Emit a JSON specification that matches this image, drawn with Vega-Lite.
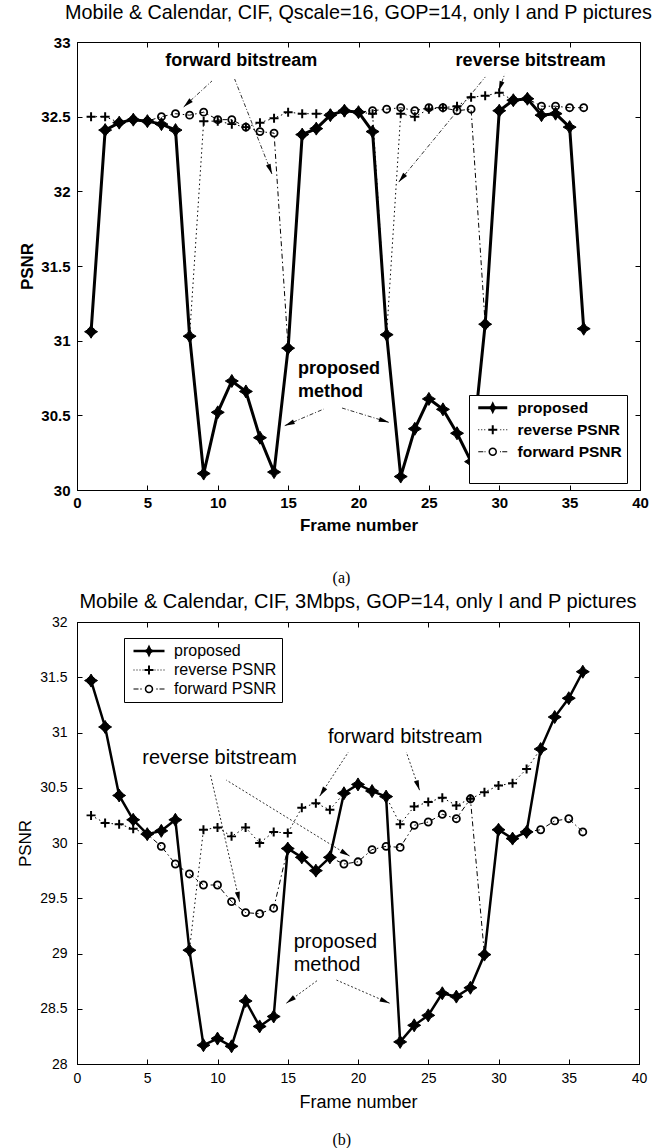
{
"$schema": "https://vega.github.io/schema/vega-lite/v6.json",
"padding": {"left": 16, "top": 2, "right": 4, "bottom": 0},
"spacing": 5,
"resolve": {"scale": {"shape": "independent"}, "legend": {"shape": "independent"}},
"config": {
  "font": "Liberation Sans",
  "view": {"stroke": "black", "strokeWidth": 1},
  "axis": {"grid": false, "domainColor": "black", "tickColor": "black", "labelColor": "black", "titleColor": "black", "tickSize": -5, "labelFlush": false, "labelOverlap": false, "labelFont": "Liberation Sans", "titleFont": "Liberation Sans"},
  "title": {"color": "black", "font": "Liberation Sans"},
  "legend": {"labelColor": "black", "labelFont": "Liberation Sans"}
},
"datasets": {
  "psnrA": [
    {"series":"proposed","frame":1,"psnr":31.06},{"series":"proposed","frame":2,"psnr":32.41},{"series":"proposed","frame":3,"psnr":32.46},{"series":"proposed","frame":4,"psnr":32.48},{"series":"proposed","frame":5,"psnr":32.47},{"series":"proposed","frame":6,"psnr":32.45},{"series":"proposed","frame":7,"psnr":32.41},{"series":"proposed","frame":8,"psnr":31.03},{"series":"proposed","frame":9,"psnr":30.11},{"series":"proposed","frame":10,"psnr":30.52},{"series":"proposed","frame":11,"psnr":30.73},{"series":"proposed","frame":12,"psnr":30.66},{"series":"proposed","frame":13,"psnr":30.35},{"series":"proposed","frame":14,"psnr":30.12},{"series":"proposed","frame":15,"psnr":30.95},{"series":"proposed","frame":16,"psnr":32.38},{"series":"proposed","frame":17,"psnr":32.42},{"series":"proposed","frame":18,"psnr":32.51},{"series":"proposed","frame":19,"psnr":32.54},{"series":"proposed","frame":20,"psnr":32.53},{"series":"proposed","frame":21,"psnr":32.40},{"series":"proposed","frame":22,"psnr":31.04},{"series":"proposed","frame":23,"psnr":30.09},{"series":"proposed","frame":24,"psnr":30.41},{"series":"proposed","frame":25,"psnr":30.61},{"series":"proposed","frame":26,"psnr":30.54},{"series":"proposed","frame":27,"psnr":30.38},{"series":"proposed","frame":28,"psnr":30.19},{"series":"proposed","frame":29,"psnr":31.11},{"series":"proposed","frame":30,"psnr":32.54},{"series":"proposed","frame":31,"psnr":32.61},{"series":"proposed","frame":32,"psnr":32.62},{"series":"proposed","frame":33,"psnr":32.51},{"series":"proposed","frame":34,"psnr":32.52},{"series":"proposed","frame":35,"psnr":32.43},{"series":"proposed","frame":36,"psnr":31.08},
    {"series":"reverse PSNR","frame":1,"psnr":32.50},{"series":"reverse PSNR","frame":2,"psnr":32.50},{"series":"reverse PSNR","frame":3,"psnr":32.46},{"series":"reverse PSNR","frame":4,"psnr":32.48},{"series":"reverse PSNR","frame":5,"psnr":32.47},{"series":"reverse PSNR","frame":6,"psnr":32.45},{"series":"reverse PSNR","frame":7,"psnr":32.41},{"series":"reverse PSNR","frame":8,"psnr":31.03},{"series":"reverse PSNR","frame":9,"psnr":32.47},{"series":"reverse PSNR","frame":10,"psnr":32.47},{"series":"reverse PSNR","frame":11,"psnr":32.45},{"series":"reverse PSNR","frame":12,"psnr":32.43},{"series":"reverse PSNR","frame":13,"psnr":32.46},{"series":"reverse PSNR","frame":14,"psnr":32.49},{"series":"reverse PSNR","frame":15,"psnr":32.53},{"series":"reverse PSNR","frame":16,"psnr":32.52},{"series":"reverse PSNR","frame":17,"psnr":32.52},{"series":"reverse PSNR","frame":18,"psnr":32.52},{"series":"reverse PSNR","frame":19,"psnr":32.53},{"series":"reverse PSNR","frame":20,"psnr":32.53},{"series":"reverse PSNR","frame":21,"psnr":32.52},{"series":"reverse PSNR","frame":22,"psnr":31.04},{"series":"reverse PSNR","frame":23,"psnr":32.52},{"series":"reverse PSNR","frame":24,"psnr":32.50},{"series":"reverse PSNR","frame":25,"psnr":32.55},{"series":"reverse PSNR","frame":26,"psnr":32.56},{"series":"reverse PSNR","frame":27,"psnr":32.57},{"series":"reverse PSNR","frame":28,"psnr":32.63},{"series":"reverse PSNR","frame":29,"psnr":32.64},{"series":"reverse PSNR","frame":30,"psnr":32.66},{"series":"reverse PSNR","frame":31,"psnr":32.61},{"series":"reverse PSNR","frame":32,"psnr":32.62},{"series":"reverse PSNR","frame":33,"psnr":32.51},{"series":"reverse PSNR","frame":34,"psnr":32.52},{"series":"reverse PSNR","frame":35,"psnr":32.43},{"series":"reverse PSNR","frame":36,"psnr":31.08},
    {"series":"forward PSNR","frame":1,"psnr":31.06},{"series":"forward PSNR","frame":2,"psnr":32.41},{"series":"forward PSNR","frame":3,"psnr":32.46},{"series":"forward PSNR","frame":4,"psnr":32.48},{"series":"forward PSNR","frame":5,"psnr":32.47},{"series":"forward PSNR","frame":6,"psnr":32.50},{"series":"forward PSNR","frame":7,"psnr":32.52},{"series":"forward PSNR","frame":8,"psnr":32.51},{"series":"forward PSNR","frame":9,"psnr":32.53},{"series":"forward PSNR","frame":10,"psnr":32.48},{"series":"forward PSNR","frame":11,"psnr":32.48},{"series":"forward PSNR","frame":12,"psnr":32.43},{"series":"forward PSNR","frame":13,"psnr":32.40},{"series":"forward PSNR","frame":14,"psnr":32.39},{"series":"forward PSNR","frame":15,"psnr":30.95},{"series":"forward PSNR","frame":16,"psnr":32.38},{"series":"forward PSNR","frame":17,"psnr":32.42},{"series":"forward PSNR","frame":18,"psnr":32.51},{"series":"forward PSNR","frame":19,"psnr":32.54},{"series":"forward PSNR","frame":20,"psnr":32.53},{"series":"forward PSNR","frame":21,"psnr":32.54},{"series":"forward PSNR","frame":22,"psnr":32.55},{"series":"forward PSNR","frame":23,"psnr":32.56},{"series":"forward PSNR","frame":24,"psnr":32.54},{"series":"forward PSNR","frame":25,"psnr":32.56},{"series":"forward PSNR","frame":26,"psnr":32.56},{"series":"forward PSNR","frame":27,"psnr":32.54},{"series":"forward PSNR","frame":28,"psnr":32.55},{"series":"forward PSNR","frame":29,"psnr":31.11},{"series":"forward PSNR","frame":30,"psnr":32.54},{"series":"forward PSNR","frame":31,"psnr":32.61},{"series":"forward PSNR","frame":32,"psnr":32.62},{"series":"forward PSNR","frame":33,"psnr":32.57},{"series":"forward PSNR","frame":34,"psnr":32.57},{"series":"forward PSNR","frame":35,"psnr":32.56},{"series":"forward PSNR","frame":36,"psnr":32.56}
  ],
  "psnrB": [
    {"series":"proposed","frame":1,"psnr":31.47},{"series":"proposed","frame":2,"psnr":31.05},{"series":"proposed","frame":3,"psnr":30.43},{"series":"proposed","frame":4,"psnr":30.21},{"series":"proposed","frame":5,"psnr":30.08},{"series":"proposed","frame":6,"psnr":30.11},{"series":"proposed","frame":7,"psnr":30.21},{"series":"proposed","frame":8,"psnr":29.03},{"series":"proposed","frame":9,"psnr":28.17},{"series":"proposed","frame":10,"psnr":28.23},{"series":"proposed","frame":11,"psnr":28.16},{"series":"proposed","frame":12,"psnr":28.57},{"series":"proposed","frame":13,"psnr":28.34},{"series":"proposed","frame":14,"psnr":28.43},{"series":"proposed","frame":15,"psnr":29.95},{"series":"proposed","frame":16,"psnr":29.87},{"series":"proposed","frame":17,"psnr":29.75},{"series":"proposed","frame":18,"psnr":29.87},{"series":"proposed","frame":19,"psnr":30.45},{"series":"proposed","frame":20,"psnr":30.53},{"series":"proposed","frame":21,"psnr":30.47},{"series":"proposed","frame":22,"psnr":30.42},{"series":"proposed","frame":23,"psnr":28.20},{"series":"proposed","frame":24,"psnr":28.35},{"series":"proposed","frame":25,"psnr":28.44},{"series":"proposed","frame":26,"psnr":28.64},{"series":"proposed","frame":27,"psnr":28.61},{"series":"proposed","frame":28,"psnr":28.69},{"series":"proposed","frame":29,"psnr":28.99},{"series":"proposed","frame":30,"psnr":30.12},{"series":"proposed","frame":31,"psnr":30.04},{"series":"proposed","frame":32,"psnr":30.10},{"series":"proposed","frame":33,"psnr":30.85},{"series":"proposed","frame":34,"psnr":31.14},{"series":"proposed","frame":35,"psnr":31.31},{"series":"proposed","frame":36,"psnr":31.55},
    {"series":"reverse PSNR","frame":1,"psnr":30.25},{"series":"reverse PSNR","frame":2,"psnr":30.18},{"series":"reverse PSNR","frame":3,"psnr":30.17},{"series":"reverse PSNR","frame":4,"psnr":30.13},{"series":"reverse PSNR","frame":5,"psnr":30.08},{"series":"reverse PSNR","frame":6,"psnr":30.11},{"series":"reverse PSNR","frame":7,"psnr":30.21},{"series":"reverse PSNR","frame":8,"psnr":29.03},{"series":"reverse PSNR","frame":9,"psnr":30.12},{"series":"reverse PSNR","frame":10,"psnr":30.14},{"series":"reverse PSNR","frame":11,"psnr":30.06},{"series":"reverse PSNR","frame":12,"psnr":30.14},{"series":"reverse PSNR","frame":13,"psnr":30.00},{"series":"reverse PSNR","frame":14,"psnr":30.10},{"series":"reverse PSNR","frame":15,"psnr":30.09},{"series":"reverse PSNR","frame":16,"psnr":30.32},{"series":"reverse PSNR","frame":17,"psnr":30.36},{"series":"reverse PSNR","frame":18,"psnr":30.30},{"series":"reverse PSNR","frame":19,"psnr":30.45},{"series":"reverse PSNR","frame":20,"psnr":30.53},{"series":"reverse PSNR","frame":21,"psnr":30.47},{"series":"reverse PSNR","frame":22,"psnr":30.42},{"series":"reverse PSNR","frame":23,"psnr":30.17},{"series":"reverse PSNR","frame":24,"psnr":30.33},{"series":"reverse PSNR","frame":25,"psnr":30.37},{"series":"reverse PSNR","frame":26,"psnr":30.41},{"series":"reverse PSNR","frame":27,"psnr":30.34},{"series":"reverse PSNR","frame":28,"psnr":30.40},{"series":"reverse PSNR","frame":29,"psnr":30.46},{"series":"reverse PSNR","frame":30,"psnr":30.52},{"series":"reverse PSNR","frame":31,"psnr":30.54},{"series":"reverse PSNR","frame":32,"psnr":30.67},{"series":"reverse PSNR","frame":33,"psnr":30.85},{"series":"reverse PSNR","frame":34,"psnr":31.14},{"series":"reverse PSNR","frame":35,"psnr":31.31},{"series":"reverse PSNR","frame":36,"psnr":31.55},
    {"series":"forward PSNR","frame":1,"psnr":31.47},{"series":"forward PSNR","frame":2,"psnr":31.05},{"series":"forward PSNR","frame":3,"psnr":30.43},{"series":"forward PSNR","frame":4,"psnr":30.21},{"series":"forward PSNR","frame":5,"psnr":30.08},{"series":"forward PSNR","frame":6,"psnr":29.97},{"series":"forward PSNR","frame":7,"psnr":29.81},{"series":"forward PSNR","frame":8,"psnr":29.72},{"series":"forward PSNR","frame":9,"psnr":29.62},{"series":"forward PSNR","frame":10,"psnr":29.62},{"series":"forward PSNR","frame":11,"psnr":29.47},{"series":"forward PSNR","frame":12,"psnr":29.37},{"series":"forward PSNR","frame":13,"psnr":29.36},{"series":"forward PSNR","frame":14,"psnr":29.41},{"series":"forward PSNR","frame":15,"psnr":29.95},{"series":"forward PSNR","frame":16,"psnr":29.87},{"series":"forward PSNR","frame":17,"psnr":29.75},{"series":"forward PSNR","frame":18,"psnr":29.87},{"series":"forward PSNR","frame":19,"psnr":29.81},{"series":"forward PSNR","frame":20,"psnr":29.83},{"series":"forward PSNR","frame":21,"psnr":29.94},{"series":"forward PSNR","frame":22,"psnr":29.97},{"series":"forward PSNR","frame":23,"psnr":29.96},{"series":"forward PSNR","frame":24,"psnr":30.16},{"series":"forward PSNR","frame":25,"psnr":30.19},{"series":"forward PSNR","frame":26,"psnr":30.26},{"series":"forward PSNR","frame":27,"psnr":30.22},{"series":"forward PSNR","frame":28,"psnr":30.40},{"series":"forward PSNR","frame":29,"psnr":28.99},{"series":"forward PSNR","frame":30,"psnr":30.12},{"series":"forward PSNR","frame":31,"psnr":30.04},{"series":"forward PSNR","frame":32,"psnr":30.10},{"series":"forward PSNR","frame":33,"psnr":30.12},{"series":"forward PSNR","frame":34,"psnr":30.20},{"series":"forward PSNR","frame":35,"psnr":30.22},{"series":"forward PSNR","frame":36,"psnr":30.10}
  ],
  "notesA": [
    {"label":"forward bitstream","frame":6.27,"psnr":32.875},
    {"label":"reverse bitstream","frame":26.9,"psnr":32.873},
    {"label":"proposed","frame":15.70,"psnr":30.81},
    {"label":"method","frame":15.70,"psnr":30.656}
  ],
  "notesB": [
    {"label":"reverse bitstream","frame":4.65,"psnr":30.765},
    {"label":"forward bitstream","frame":17.86,"psnr":30.96},
    {"label":"proposed","frame":15.42,"psnr":29.107},
    {"label":"method","frame":15.42,"psnr":28.896}
  ],
  "arrowsA": [
    {"frame":7.58,"psnr":32.565,"frame2":9.59,"psnr2":32.739},
    {"frame":13.85,"psnr":32.116,"frame2":11.20,"psnr2":32.752},
    {"frame":22.86,"psnr":32.062,"frame2":29.01,"psnr2":32.766},
    {"frame":29.96,"psnr":32.672,"frame2":30.39,"psnr2":32.786},
    {"frame":14.76,"psnr":30.431,"frame2":17.53,"psnr2":30.542},
    {"frame":22.15,"psnr":30.453,"frame2":18.83,"psnr2":30.549}
  ],
  "arrowsB": [
    {"frame":11.57,"psnr":29.468,"frame2":9.49,"psnr2":30.623},
    {"frame":19.40,"psnr":29.882,"frame2":10.63,"psnr2":30.569},
    {"frame":17.27,"psnr":30.424,"frame2":19.31,"psnr2":30.822},
    {"frame":24.38,"psnr":30.478,"frame2":23.44,"psnr2":30.822},
    {"frame":14.90,"psnr":28.55,"frame2":17.15,"psnr2":28.76},
    {"frame":22.25,"psnr":28.55,"frame2":18.46,"psnr2":28.76}
  ]
},
"vconcat": [
  {
    "title": {"text": "(a)", "orient": "bottom", "font": "Liberation Serif", "fontSize": 16, "fontWeight": "normal", "offset": 36, "anchor": "middle", "dx": 6},
    "vconcat": [
      {
        "width": 563, "height": 448,
        "title": {"text": "Mobile & Calendar, CIF, Qscale=16, GOP=14, only I and P pictures", "fontSize": 19.8, "fontWeight": "normal", "frame": "group", "anchor": "middle", "offset": 12},
        "layer": [
          {
            "encoding": {
              "x": {"field": "frame", "type": "quantitative", "title": "Frame number", "scale": {"domain": [0, 40], "nice": false, "zero": false},
                    "axis": {"values": [0,5,10,15,20,25,30,35,40], "format": "d", "labelFontSize": 15, "labelFontWeight": "bold", "labelPadding": 10, "titleFontSize": 17, "titleFontWeight": "bold", "titlePadding": 7}},
              "y": {"field": "psnr", "type": "quantitative", "title": "PSNR", "scale": {"domain": [30, 33], "nice": false, "zero": false},
                    "axis": {"values": [30,30.5,31,31.5,32,32.5,33], "format": "~g", "labelFontSize": 15, "labelFontWeight": "bold", "labelPadding": 12, "titleFontSize": 17, "titleFontWeight": "bold", "titlePadding": 4}}
            },
            "layer": [
              {"data": {"name": "arrowsA"}, "mark": {"type": "rule", "color": "#333333", "strokeWidth": 1, "strokeDash": [4, 2, 1, 2]},
               "encoding": {"x2": {"field": "frame2"}, "y2": {"field": "psnr2"}}},
              {"data": {"name": "arrowsA"},
               "transform": [{"calculate": "atan2((datum.frame-datum.frame2)*14.075,(datum.psnr-datum.psnr2)*149.33)*180/PI", "as": "angle"}],
               "mark": {"type": "point", "shape": "M0,0L0.5,2L-0.5,2Z", "filled": true, "color": "black", "size": 100, "opacity": 1},
               "encoding": {"angle": {"field": "angle", "type": "quantitative", "scale": null}}},
              {"data": {"name": "psnrA"}, "transform": [{"filter": "datum.series === 'reverse PSNR'"}],
               "mark": {"type": "line", "color": "black", "strokeWidth": 1, "strokeDash": [1.5, 3]}},
              {"data": {"name": "psnrA"}, "transform": [{"filter": "datum.series === 'forward PSNR'"}],
               "mark": {"type": "line", "color": "black", "strokeWidth": 1, "strokeDash": [5, 3, 1.5, 3]}},
              {"data": {"name": "psnrA"}, "transform": [{"filter": "datum.series === 'proposed'"}],
               "mark": {"type": "line", "color": "black", "strokeWidth": 3}},
              {"data": {"name": "psnrA"}, "transform": [{"filter": "datum.series === 'reverse PSNR'"}],
               "mark": {"type": "point", "shape": "M-1,-0.22H-0.22V-1H0.22V-0.22H1V0.22H0.22V1H-0.22V0.22H-1Z", "filled": true, "color": "black", "size": 81, "opacity": 1}},
              {"data": {"name": "psnrA"}, "transform": [{"filter": "datum.series === 'forward PSNR'"}],
               "mark": {"type": "point", "shape": "circle", "filled": false, "color": "black", "strokeWidth": 1.8, "size": 50, "opacity": 1}},
              {"data": {"name": "psnrA"}, "transform": [{"filter": "datum.series === 'proposed'"}],
               "mark": {"type": "point", "shape": "M0,-1L0.38,-0.38L1,0L0.38,0.38L0,1L-0.38,0.38L-1,0L-0.38,-0.38Z", "filled": true, "color": "black", "stroke": "black", "strokeWidth": 1, "size": 169, "opacity": 1}},
              {"data": {"name": "notesA"}, "mark": {"type": "text", "align": "left", "baseline": "middle", "fontSize": 18, "fontWeight": "bold", "color": "black"},
               "encoding": {"text": {"field": "label"}}},
              {"data": {"name": "psnrA"}, "transform": [{"filter": "datum.frame < 0"}],
               "mark": {"type": "point", "filled": true, "color": "black", "opacity": 1, "size": 100},
               "encoding": {"shape": {"field": "series", "type": "nominal",
                 "scale": {"domain": ["proposed", "reverse PSNR", "forward PSNR"],
                           "range": ["M-2.9,-0.3H2.9V0.3H-2.9Z M0,-1.3L0.42,-0.42L1.3,0L0.42,0.42L0,1.3L-0.42,0.42L-1.3,0L-0.42,-0.42Z",
                                     "M-2.9,-0.1H-2.7V0.1H-2.9Z M-2.3,-0.1H-2.1V0.1H-2.3Z M-1.7,-0.1H-1.5V0.1H-1.7Z M1.5,-0.1H1.7V0.1H1.5Z M2.1,-0.1H2.3V0.1H2.1Z M2.7,-0.1H2.9V0.1H2.7Z M-0.9,-0.2H-0.2V-0.9H0.2V-0.2H0.9V0.2H0.2V0.9H-0.2V0.2H-0.9Z",
                                     "M-2.9,-0.1H-1.9V0.1H-2.9Z M-1.65,-0.1H-1.45V0.1H-1.65Z M1.45,-0.1H1.65V0.1H1.45Z M1.9,-0.1H2.9V0.1H1.9Z M0.85,0A0.85,0.85 0 1,1 -0.85,0A0.85,0.85 0 1,1 0.85,0Z M0.55,0A0.55,0.55 0 1,0 -0.55,0A0.55,0.55 0 1,0 0.55,0Z"]},
                 "legend": {"title": " ", "titleOrient": "bottom", "titleFontSize": 16, "titlePadding": 2, "orient": "none", "legendX": 392, "legendY": 353, "strokeColor": "black", "fillColor": "white", "padding": 5,
                   "labelFontSize": 15.5, "labelFontWeight": "bold", "symbolSize": 100, "symbolOffset": 11, "labelOffset": 17, "rowPadding": 5,
                   "symbolOpacity": 1, "symbolFillColor": "black", "symbolStrokeWidth": 0}}}}
            ]
          },
          {
            "data": {"name": "psnrA"},
            "mark": {"type": "point", "opacity": 0},
            "encoding": {
              "x": {"field": "frame", "type": "quantitative", "scale": {"domain": [0, 40], "nice": false, "zero": false},
                    "axis": {"orient": "top", "values": [0,5,10,15,20,25,30,35,40], "labels": false, "title": null, "domain": false}},
              "y": {"field": "psnr", "type": "quantitative", "scale": {"domain": [30, 33], "nice": false, "zero": false},
                    "axis": {"orient": "right", "values": [30,30.5,31,31.5,32,32.5,33], "labels": false, "title": null, "domain": false}}
            }
          }
        ],
        "resolve": {"scale": {"x": "independent", "y": "independent"}}
      }
    ]
  },
  {
    "title": {"text": "(b)", "orient": "bottom", "font": "Liberation Serif", "fontSize": 16, "fontWeight": "normal", "offset": 20, "anchor": "middle", "dx": 10},
    "vconcat": [
      {
        "width": 562, "height": 442,
        "title": {"text": "Mobile & Calendar, CIF, 3Mbps, GOP=14, only I and P pictures", "fontSize": 20, "fontWeight": "normal", "frame": "group", "anchor": "middle", "offset": 3},
        "layer": [
          {
            "encoding": {
              "x": {"field": "frame", "type": "quantitative", "title": "Frame number", "scale": {"domain": [0, 40], "nice": false, "zero": false},
                    "axis": {"values": [0,5,10,15,20,25,30,35,40], "format": "d", "labelFontSize": 14, "labelFontWeight": "normal", "labelPadding": 12, "titleFontSize": 18, "titleFontWeight": "normal", "titlePadding": 8}},
              "y": {"field": "psnr", "type": "quantitative", "title": "PSNR", "scale": {"domain": [28, 32], "nice": false, "zero": false},
                    "axis": {"values": [28,28.5,29,29.5,30,30.5,31,31.5,32], "format": "~g", "labelFontSize": 14, "labelFontWeight": "normal", "labelPadding": 15, "titleFontSize": 17, "titleFontWeight": "normal", "titlePadding": 5}}
            },
            "layer": [
              {"data": {"name": "arrowsB"}, "mark": {"type": "rule", "color": "#333333", "strokeWidth": 1, "strokeDash": [2, 2]},
               "encoding": {"x2": {"field": "frame2"}, "y2": {"field": "psnr2"}}},
              {"data": {"name": "arrowsB"},
               "transform": [{"calculate": "atan2((datum.frame-datum.frame2)*14.05,(datum.psnr-datum.psnr2)*110.5)*180/PI", "as": "angle"}],
               "mark": {"type": "point", "shape": "M0,0L0.5,2L-0.5,2Z", "filled": true, "color": "black", "size": 100, "opacity": 1},
               "encoding": {"angle": {"field": "angle", "type": "quantitative", "scale": null}}},
              {"data": {"name": "psnrB"}, "transform": [{"filter": "datum.series === 'reverse PSNR'"}],
               "mark": {"type": "line", "color": "black", "strokeWidth": 1, "strokeDash": [1.5, 3]}},
              {"data": {"name": "psnrB"}, "transform": [{"filter": "datum.series === 'forward PSNR'"}],
               "mark": {"type": "line", "color": "black", "strokeWidth": 1, "strokeDash": [5, 3, 1.5, 3]}},
              {"data": {"name": "psnrB"}, "transform": [{"filter": "datum.series === 'proposed'"}],
               "mark": {"type": "line", "color": "black", "strokeWidth": 2.5}},
              {"data": {"name": "psnrB"}, "transform": [{"filter": "datum.series === 'reverse PSNR'"}],
               "mark": {"type": "point", "shape": "M-1,-0.22H-0.22V-1H0.22V-0.22H1V0.22H0.22V1H-0.22V0.22H-1Z", "filled": true, "color": "black", "size": 81, "opacity": 1}},
              {"data": {"name": "psnrB"}, "transform": [{"filter": "datum.series === 'forward PSNR'"}],
               "mark": {"type": "point", "shape": "circle", "filled": false, "color": "black", "strokeWidth": 1.8, "size": 50, "opacity": 1}},
              {"data": {"name": "psnrB"}, "transform": [{"filter": "datum.series === 'proposed'"}],
               "mark": {"type": "point", "shape": "M0,-1L0.38,-0.38L1,0L0.38,0.38L0,1L-0.38,0.38L-1,0L-0.38,-0.38Z", "filled": true, "color": "black", "stroke": "black", "strokeWidth": 1, "size": 169, "opacity": 1}},
              {"data": {"name": "notesB"}, "mark": {"type": "text", "align": "left", "baseline": "middle", "fontSize": 20, "fontWeight": "normal", "color": "black"},
               "encoding": {"text": {"field": "label"}}},
              {"data": {"name": "psnrB"}, "transform": [{"filter": "datum.frame < 0"}],
               "mark": {"type": "point", "filled": true, "color": "black", "opacity": 1, "size": 100},
               "encoding": {"shape": {"field": "series", "type": "nominal",
                 "scale": {"domain": ["proposed", "reverse PSNR", "forward PSNR"],
                           "range": ["M-3.1,-0.25H3.1V0.25H-3.1Z M0,-1.3L0.42,-0.42L1.3,0L0.42,0.42L0,1.3L-0.42,0.42L-1.3,0L-0.42,-0.42Z",
                                     "M-3.1,-0.1H-2.9V0.1H-3.1Z M-2.5,-0.1H-2.3V0.1H-2.5Z M-1.9,-0.1H-1.7V0.1H-1.9Z M-1.3,-0.1H-1.1V0.1H-1.3Z M1.1,-0.1H1.3V0.1H1.1Z M1.7,-0.1H1.9V0.1H1.7Z M2.3,-0.1H2.5V0.1H2.3Z M2.9,-0.1H3.1V0.1H2.9Z M-0.9,-0.2H-0.2V-0.9H0.2V-0.2H0.9V0.2H0.2V0.9H-0.2V0.2H-0.9Z",
                                     "M-3.1,-0.1H-2.1V0.1H-3.1Z M-1.75,-0.1H-1.45V0.1H-1.75Z M1.45,-0.1H1.75V0.1H1.45Z M2.1,-0.1H3.1V0.1H2.1Z M0.85,0A0.85,0.85 0 1,1 -0.85,0A0.85,0.85 0 1,1 0.85,0Z M0.55,0A0.55,0.55 0 1,0 -0.55,0A0.55,0.55 0 1,0 0.55,0Z"]},
                 "legend": {"title": null, "orient": "none", "legendX": 47, "legendY": 16, "strokeColor": "black", "fillColor": "white", "padding": 5,
                   "labelFontSize": 16, "labelFontWeight": "normal", "symbolSize": 100, "symbolOffset": 12, "labelOffset": 17, "rowPadding": 3,
                   "symbolOpacity": 1, "symbolFillColor": "black", "symbolStrokeWidth": 0}}}}
            ]
          },
          {
            "data": {"name": "psnrB"},
            "mark": {"type": "point", "opacity": 0},
            "encoding": {
              "x": {"field": "frame", "type": "quantitative", "scale": {"domain": [0, 40], "nice": false, "zero": false},
                    "axis": {"orient": "top", "values": [0,5,10,15,20,25,30,35,40], "labels": false, "title": null, "domain": false}},
              "y": {"field": "psnr", "type": "quantitative", "scale": {"domain": [28, 32], "nice": false, "zero": false},
                    "axis": {"orient": "right", "values": [28,28.5,29,29.5,30,30.5,31,31.5,32], "labels": false, "title": null, "domain": false}}
            }
          }
        ],
        "resolve": {"scale": {"x": "independent", "y": "independent"}}
      }
    ]
  }
]
}
